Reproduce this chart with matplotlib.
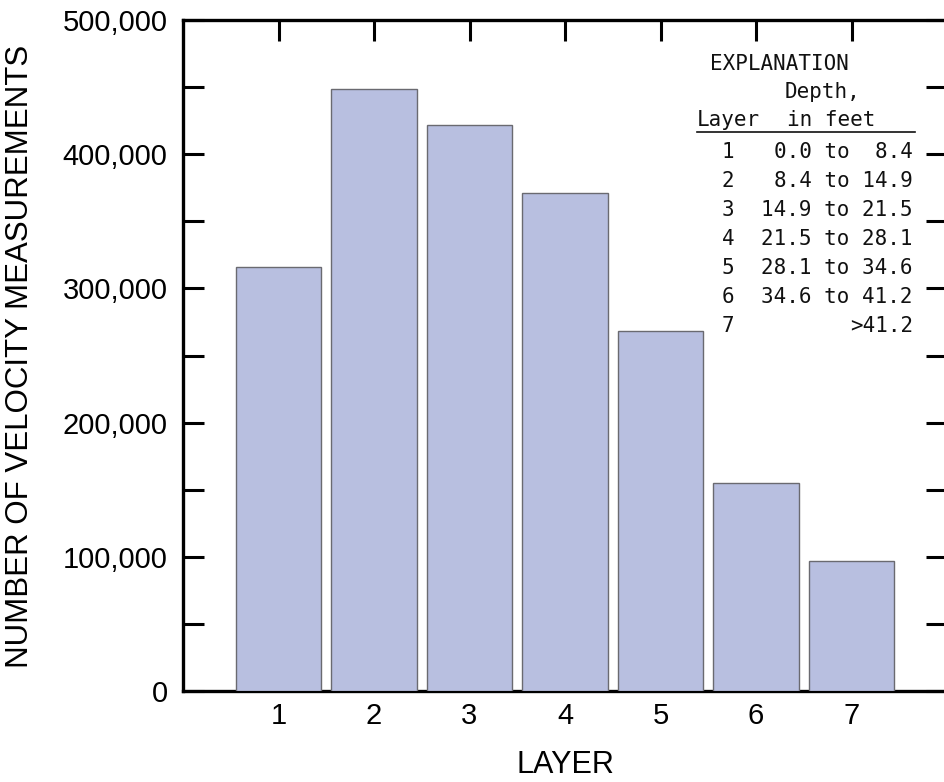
import numpy as np
import matplotlib
matplotlib.use("Agg")
import matplotlib.pyplot as plt
from matplotlib.ticker import MultipleLocator, FuncFormatter

layers = [1, 2, 3, 4, 5, 6, 7]
counts = [315700, 448500, 421500, 370800, 268300, 154800, 97100]
depth_ranges = ["0.0 to  8.4", "8.4 to 14.9", "14.9 to 21.5", "21.5 to 28.1",
                "28.1 to 34.6", "34.6 to 41.2", ">41.2"]

W, H = 945, 782
plt.rcParams['font.family'] = ['Liberation Sans', 'DejaVu Sans']

fig = plt.figure(figsize=(W / 100, H / 100), dpi=100)
# axes box in pixels: left 183, right ~947 (runs past the edge), top 20, bottom 691
ax = fig.add_axes([183 / W, 1 - 691 / H, 764 / W, 671 / H])

ax.bar(layers, counts, width=0.9, color='#b8bfe0', edgecolor='#6a6a70', linewidth=1.0, zorder=3)

ax.set_xlim(0, 8)
ax.set_ylim(0, 500000)

for s in ax.spines.values():
    s.set_linewidth(2.4)
    s.set_color('black')

ax.yaxis.set_major_locator(MultipleLocator(100000))
ax.yaxis.set_minor_locator(MultipleLocator(50000))
ax.yaxis.set_major_formatter(FuncFormatter(lambda v, p: f"{int(v):,}"))
ax.set_xticks(layers)

ax.tick_params(axis='y', which='both', direction='in', length=15, width=2.2,
               left=True, right=True, labelsize=21, pad=11)
ax.tick_params(axis='x', which='both', direction='in', length=15, width=2.2,
               top=True, bottom=False, labelsize=21, pad=8)

ax.set_xlabel("LAYER", fontsize=22)
ax.xaxis.set_label_coords((565 - 183) / 764, (691 - 750) / 671)
ax.set_ylabel("NUMBER OF VELOCITY MEASUREMENTS", fontsize=22.5)
ax.yaxis.set_label_coords((35 - 183) / 764, (691 - 356) / 671)


def px(x, y):
    return x / W, 1 - y / H


mono = dict(family='DejaVu Sans Mono', fontsize=15, va='center', color='#111111')
fig.text(*px(710, 64), "EXPLANATION", ha='left', **mono)
fig.text(*px(785, 92), "Depth,", ha='left', **mono)
fig.text(*px(697, 120), "Layer", ha='left', **mono)
fig.text(*px(787, 120), "in feet", ha='left', **mono)
fig.add_artist(plt.Line2D([697 / W, 915 / W], [1 - 132 / H, 1 - 132 / H],
                          color='#111111', linewidth=1.2))

row_y = [152, 181, 210, 239, 268, 297, 326]
for lay, rng, yy in zip(layers, depth_ranges, row_y):
    fig.text(*px(728, yy), str(lay), ha='center', **mono)
    fig.text(*px(913, yy), rng, ha='right', **mono)

fig.savefig("out.png", dpi=100)
